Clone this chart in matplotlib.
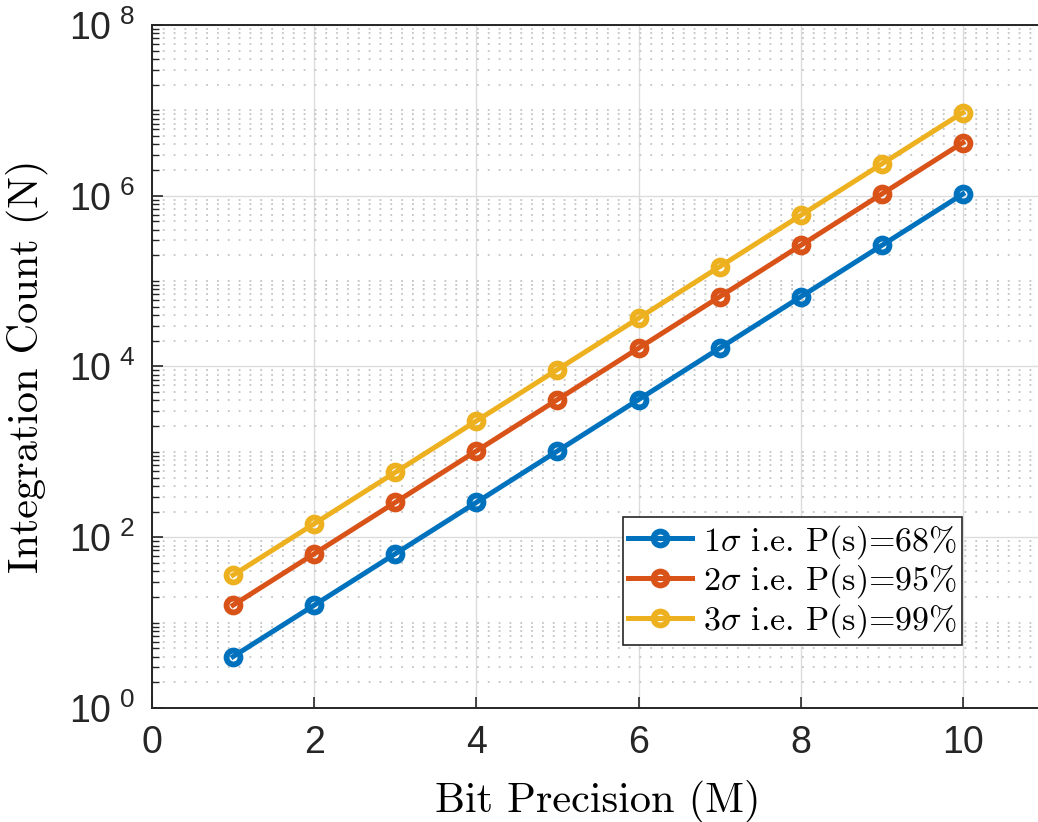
import matplotlib
matplotlib.use("Agg")
import matplotlib.pyplot as plt
import numpy as np
from matplotlib.ticker import FixedLocator, LogLocator, FuncFormatter, NullFormatter

plt.rcParams['mathtext.fontset'] = 'cm'
plt.rcParams['font.family'] = ['Liberation Sans', 'DejaVu Sans']
plt.rcParams['axes.unicode_minus'] = False

### DATA ###
bits = [1, 2, 3, 4, 5, 6, 7, 8, 9, 10]
n_1sigma = [4, 16, 64, 256, 1024, 4096, 16384, 65536, 262144, 1048576]
n_2sigma = [16, 64, 256, 1024, 4096, 16384, 65536, 262144, 1048576, 4194304]
n_3sigma = [36, 144, 576, 2304, 9216, 36864, 147456, 589824, 2359296, 9437184]
labels = [r'$1\sigma$ i.e. P(s)=68%', r'$2\sigma$ i.e. P(s)=95%', r'$3\sigma$ i.e. P(s)=99%']
colors = ['#0072BD', '#D95319', '#EDB120']
x_ticks = [0, 2, 4, 6, 8, 10]
y_ticks = [1e0, 1e2, 1e4, 1e6, 1e8]

### PLOT ###
W, H = 1038, 822
fig = plt.figure(figsize=(W / 100, H / 100), dpi=100)
left, right, top, bottom = 152, 1044, 25, 708
ax = fig.add_axes([left / W, 1 - bottom / H, (right - left) / W, (bottom - top) / H])

for ys, lab, c in zip([n_1sigma, n_2sigma, n_3sigma], labels, colors):
    ax.plot(bits, ys, '-o', color=c, lw=3.6, ms=10, mew=4.2, mfc='none', label=lab)

ax.set_yscale('log')
ax.set_xlim(0, 11)
ax.set_ylim(1, 1e8)
ax.xaxis.set_major_locator(FixedLocator(x_ticks))
ax.yaxis.set_major_locator(FixedLocator(y_ticks))
ax.yaxis.set_minor_locator(LogLocator(base=10, subs=np.arange(1, 10), numticks=100))
ax.yaxis.set_minor_formatter(NullFormatter())


def fmt_pow(v, pos):
    e = int(round(np.log10(v)))
    return r'$\mathregular{10}^{\ %d}$' % e


ax.yaxis.set_major_formatter(FuncFormatter(fmt_pow))

ax.grid(True, which='major', color='#dcdcdc', lw=1.0, ls='-')
ax.grid(True, which='minor', axis='y', color='#c4c4c4', lw=1.3, ls=(0, (1, 5)))
ax.set_axisbelow(True)

ax.tick_params(axis='both', which='major', direction='in', length=8, width=1.2,
               colors='#262626', labelsize=27, pad=12)
ax.tick_params(axis='y', which='minor', direction='in', length=5, width=1.0, colors='#262626')
for sp in ax.spines.values():
    sp.set_color('#262626')
    sp.set_linewidth(1.4)

fig.canvas.draw()
for lbl in ax.get_yticklabels():
    lbl.set_math_fontfamily('custom')
plt.rcParams['mathtext.rm'] = 'Liberation Sans'

ax.set_xlabel('Bit Precision (M)', family='cmr10', fontsize=30.5, labelpad=14)
ax.set_ylabel('Integration Count (N)', family='cmr10', fontsize=30.5, labelpad=14)

leg = ax.legend(loc='lower right', bbox_to_anchor=(810 / (right - left), 63 / (bottom - top)),
                prop={'family': 'cmr10', 'size': 24.5}, fancybox=False, framealpha=1,
                edgecolor='#262626', handlelength=1.9, handletextpad=0.3,
                borderpad=0.15, labelspacing=0.05, borderaxespad=0)
leg.get_frame().set_linewidth(1.2)

fig.savefig('out.png', dpi=100)
